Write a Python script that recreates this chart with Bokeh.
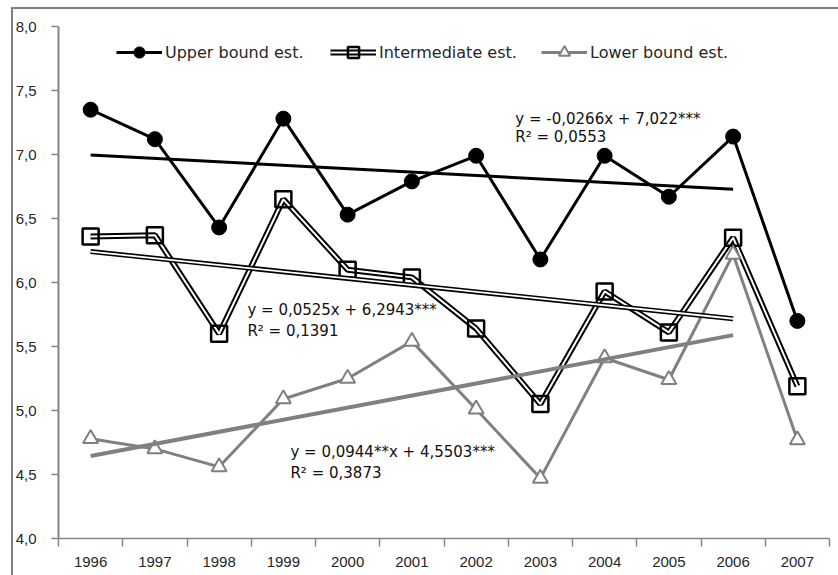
from bokeh.plotting import figure
from bokeh.models import (FixedTicker, CustomJSTickFormatter, Legend, LegendItem,
                          Label, Range1d)
from bokeh.embed import file_html
from bokeh.resources import INLINE

# ---------------- data ----------------
years = [1996, 1997, 1998, 1999, 2000, 2001, 2002, 2003, 2004, 2005, 2006, 2007]
upper = [7.35, 7.12, 6.43, 7.28, 6.53, 6.79, 6.99, 6.18, 6.99, 6.67, 7.14, 5.70]
intermediate = [6.36, 6.37, 5.60, 6.65, 6.10, 6.04, 5.64, 5.05, 5.93, 5.61, 6.35, 5.19]
lower = [4.78, 4.70, 4.56, 5.09, 5.25, 5.54, 5.01, 4.47, 5.41, 5.24, 6.22, 4.77]

series_names = ["Upper bound est.", "Intermediate est.", "Lower bound est."]

# trend lines (fitted on 1996-2006, x = 1..11)
trend_slope = [-0.0266, -0.0525, 0.0944]
trend_intercept = [7.022, 6.2943, 4.5503]
trend_x_index = [1, 11]
trend_years = [1996, 2006]

eq_texts = ["y = -0,0266x + 7,022***", "y =  0,0525x + 6,2943***", "y = 0,0944**x + 4,5503***"]
r2_texts = ["R\u00b2 = 0,0553", "R\u00b2 = 0,1391", "R\u00b2 = 0,3873"]

y_ticks = [4.0, 4.5, 5.0, 5.5, 6.0, 6.5, 7.0, 7.5, 8.0]

# ---------------- figure ----------------
AXIS_GRAY = "#868686"
SER_GRAY = "#808080"
TXT = "#262626"

W, H = 838, 575
bg = ("linear-gradient(#808080,#808080) 11px 8px / 2px 567px no-repeat, "
      "linear-gradient(#808080,#808080) 11px 7px / 827px 2px no-repeat, white")

p = figure(width=W, height=H, output_backend="svg", toolbar_location=None,
           x_range=Range1d(years[0] - 0.5, years[-1] + 0.5),
           y_range=Range1d(y_ticks[0], y_ticks[-1]),
           min_border_left=58, min_border_right=9, min_border_top=26, min_border_bottom=37,
           styles={"background": bg})
p.outline_line_color = None
p.xgrid.visible = False
p.ygrid.visible = False
p.background_fill_color = "white"
p.border_fill_color = None

# x axis: labels at year centers, tick marks at category boundaries
p.xaxis.ticker = FixedTicker(ticks=years, minor_ticks=[y - 0.5 for y in years] + [years[-1] + 0.5])
p.xaxis.major_tick_line_color = None
p.xaxis.major_tick_out = 8
p.xaxis.major_tick_in = 0
p.xaxis.minor_tick_line_color = AXIS_GRAY
p.xaxis.minor_tick_line_width = 1.5
p.xaxis.minor_tick_out = 8
p.xaxis.minor_tick_in = 0
p.xaxis.axis_line_color = AXIS_GRAY
p.xaxis.axis_line_width = 1.5
p.xaxis.major_label_standoff = 10
p.xaxis.major_label_text_font = "Liberation Sans"
p.xaxis.major_label_text_font_size = "15px"
p.xaxis.major_label_text_color = TXT

p.yaxis.ticker = FixedTicker(ticks=y_ticks, minor_ticks=[])
p.yaxis.formatter = CustomJSTickFormatter(code="return tick.toFixed(1).replace('.', ',');")
p.yaxis.major_tick_line_color = AXIS_GRAY
p.yaxis.major_tick_line_width = 1.5
p.yaxis.major_tick_out = 7
p.yaxis.major_tick_in = 0
p.yaxis.minor_tick_line_color = None
p.yaxis.axis_line_color = AXIS_GRAY
p.yaxis.axis_line_width = 2
p.yaxis.major_label_standoff = 15
p.yaxis.major_label_text_font = "Liberation Sans"
p.yaxis.major_label_text_font_size = "15px"
p.yaxis.major_label_text_color = TXT

# ---------------- series ----------------
up_line = p.line(years, upper, line_color="black", line_width=3)
up_mark = p.scatter(years, upper, marker="circle", size=15, fill_color="black", line_color="black")

im_outer = p.line(years, intermediate, line_color="black", line_width=6)
im_inner = p.line(years, intermediate, line_color="white", line_width=2)
im_mark = p.scatter(years, intermediate, marker="square", size=16, fill_color=None,
                    line_color="black", line_width=2.5)

lo_line = p.line(years, lower, line_color=SER_GRAY, line_width=3)
lo_mark = p.scatter(years, lower, marker="triangle", size=15, fill_color="white",
                    line_color=SER_GRAY, line_width=2)

# ---------------- trend lines ----------------
def trend(i):
    return [trend_slope[i] * t + trend_intercept[i] for t in trend_x_index]

p.line(trend_years, trend(0), line_color="black", line_width=3)
p.line(trend_years, trend(1), line_color="black", line_width=5)
p.line(trend_years, trend(1), line_color="white", line_width=1.8)
p.line(trend_years, trend(2), line_color=SER_GRAY, line_width=4)

# ---------------- equation labels ----------------
eq_pos = [(2002.61, 7.281, 7.133), (1998.44, 5.789, 5.625), (1999.11, 4.672, 4.508)]
for (x, y1, y2), t1, t2 in zip(eq_pos, eq_texts, r2_texts):
    for yy, tt in ((y1, t1), (y2, t2)):
        p.add_layout(Label(x=x, y=yy, text=tt, text_baseline="middle", text_align="left",
                           text_font="DejaVu Sans", text_font_size="15px", text_color="#111111"))

# ---------------- legends ----------------
leg_items = [
    (series_names[0], [up_line, up_mark], 58),
    (series_names[1], [im_outer, im_inner, im_mark], 272),
    (series_names[2], [lo_line, lo_mark], 483),
]
for name, rends, xoff in leg_items:
    lg = Legend(items=[LegendItem(label=name, renderers=rends)], location=(xoff, 472),
                orientation="horizontal", padding=0, margin=0, spacing=0,
                glyph_width=46, glyph_height=28, label_standoff=3, label_height=28,
                label_text_font="DejaVu Sans", label_text_font_size="16px",
                label_text_color=TXT, label_text_baseline="middle",
                border_line_color=None, background_fill_alpha=0)
    p.add_layout(lg)

open("out.html", "w").write(file_html(p, INLINE))
